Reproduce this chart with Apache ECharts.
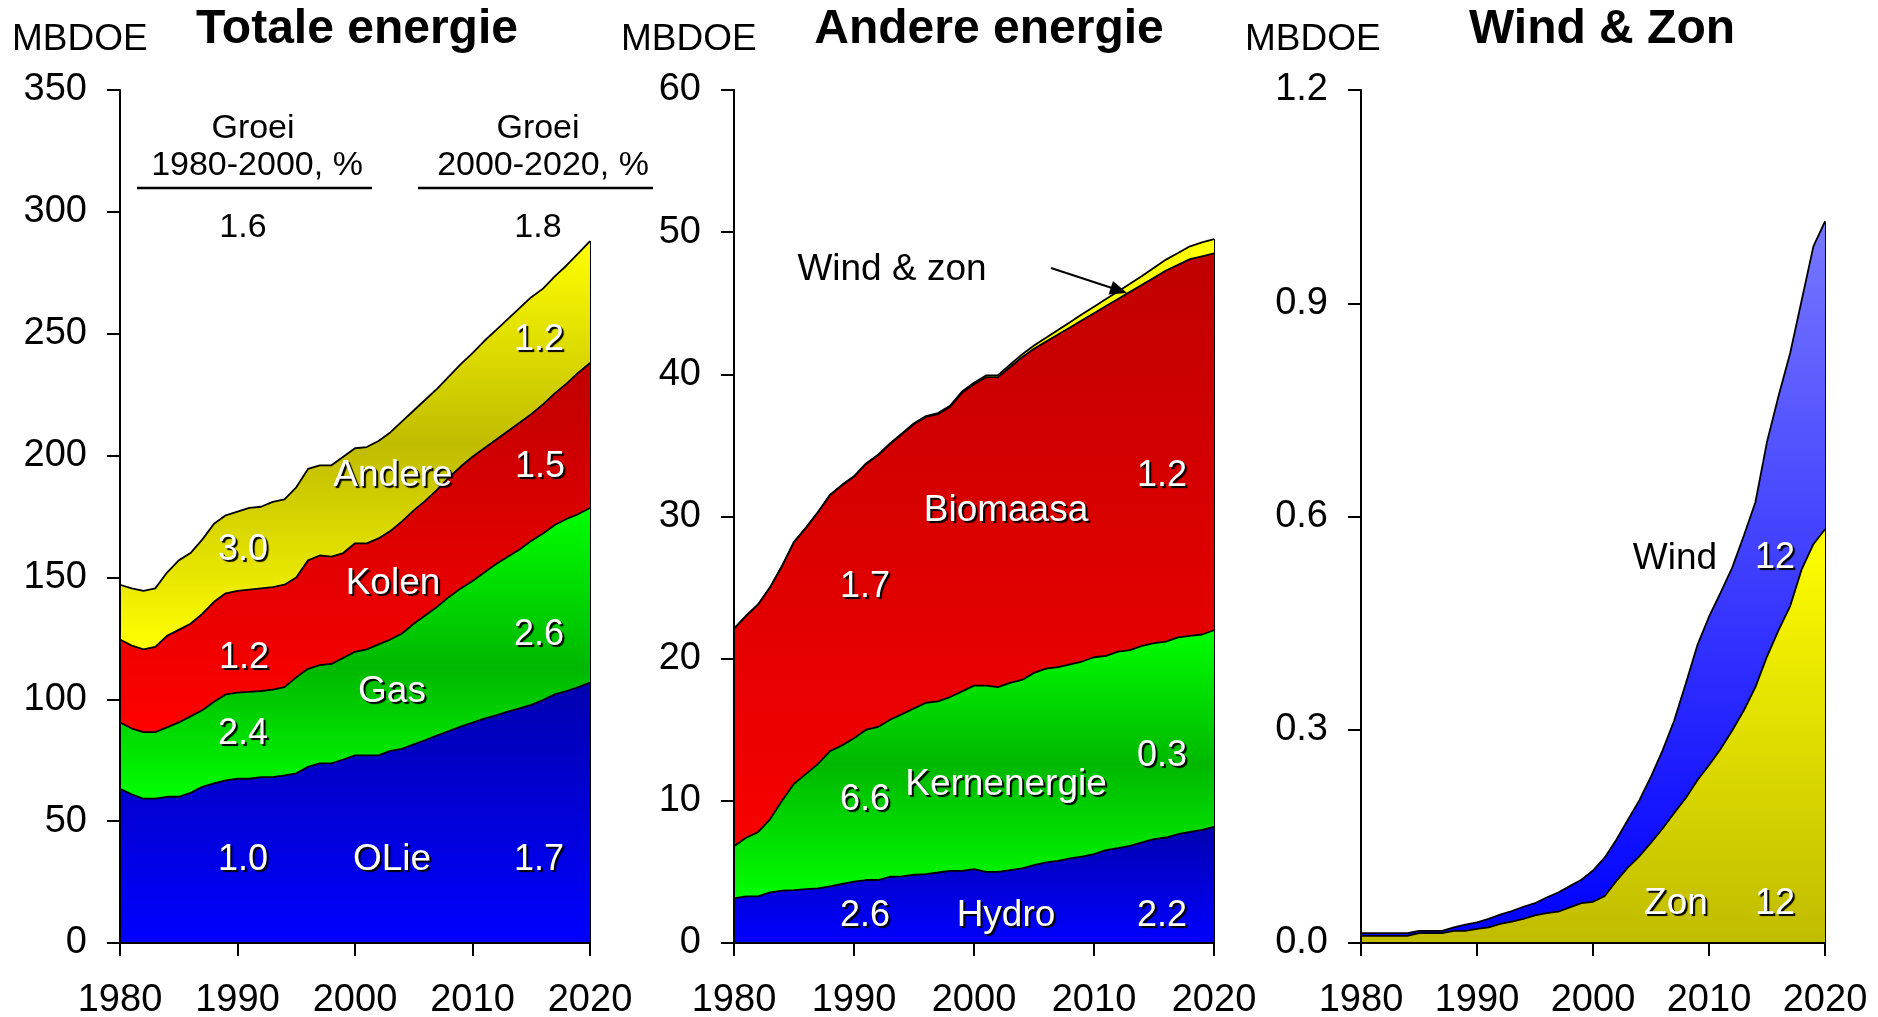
<!DOCTYPE html>
<html>
<head>
<meta charset="utf-8">
<script src="https://cdn.jsdelivr.net/npm/echarts@6/dist/echarts.min.js"></script>
<style>
  html, body { margin: 0; background: #fff; }
  #chart { width: 1878px; height: 1017px; }
</style>
</head>
<body>
<div id="chart"></div>
<script>
const years = ['1980','1981','1982','1983','1984','1985','1986','1987','1988','1989',
  '1990','1991','1992','1993','1994','1995','1996','1997','1998','1999',
  '2000','2001','2002','2003','2004','2005','2006','2007','2008','2009',
  '2010','2011','2012','2013','2014','2015','2016','2017','2018','2019','2020'];

// Totale energie, MBDOE
const olie = [63.3,61,59.2,59.2,60,60,61.6,64.1,65.5,66.7, 67.4,67.4,68.1,68.1,68.8,69.6,72.3,73.7,73.7,75.3,
  77,77,77,78.8,79.7,81.5,83.3,85.2,87,88.8, 90.4,92.1,93.4,94.9,96.3,97.7,99.7,102,103.4,105, 106.8];
const gas = [27.2,27,27.3,27.3,28.5,30.5,31.4,31.4,33.5,35.3, 35.3,35.6,35.3,35.9,36.2,39.4,40.2,40.3,40.8,41.7,
  42.5,43.5,45.5,45.7,47.3,49.5,51.2,52.8,55,56.7, 58.1,59.9,62.1,63.6,65.2,67.3,68.3,69.5,70.6,71, 71.7];
const kolen = [34,34,34,35,37.5,38,38,39.5,41,41.5, 41.8,42,42.1,42,42,41,44.5,45,44,43,
  44.5,43.5,43.5,44.5,46,46.5,47,48,49,50, 51,51,51,51.5,52,52,53,54,55.5,58, 59.5];
const andere = [22.5,23.5,24,24,26,28.5,29,30.5,32,32, 32.5,33.5,33.5,35,35,37,37.5,37,37.5,39.5,
  39,39.5,40,40.5,41,41,41.5,41.5,41.5,42, 42.5,44,45,46,47,48,47.5,48,48.5,49, 50];

// Andere energie, MBDOE
const hydro = [3.14,3.28,3.28,3.56,3.68,3.72,3.79,3.84,3.98,4.15, 4.31,4.43,4.43,4.66,4.68,4.8,4.85,4.96,5.08,5.08,
  5.2,5.0,5.0,5.13,5.25,5.48,5.67,5.78,5.95,6.07, 6.25,6.53,6.67,6.84,7.07,7.31,7.42,7.66,7.82,7.96, 8.17];
const kern = [3.66,4.12,4.52,5.14,6.32,7.48,8.11,8.76,9.52,9.75, 10.09,10.57,10.77,11.04,11.42,11.7,12.05,12.04,12.22,12.62,
  12.9,13.1,13.0,13.17,13.25,13.52,13.63,13.62,13.65,13.73, 13.85,13.67,13.83,13.76,13.83,13.79,13.78,13.84,13.78,13.74, 13.83];
const biomassa = [15.3,15.6,16,16.3,16.5,17,17.3,17.7,18,18.3, 18.4,18.7,19.1,19.4,19.7,20,20.1,20.2,20.4,21,
  21.2,21.7,21.8,22.2,22.7,22.8,23,23.4,23.7,24, 24.2,24.6,24.8,25.2,25.4,25.7,26.1,26.2,26.5,26.6, 26.5];
const windZon = [0.014,0.014,0.014,0.014,0.014,0.017,0.017,0.017,0.022,0.026, 0.029,0.034,0.04,0.045,0.051,0.056,0.064,0.071,0.08,0.089,
  0.102,0.12,0.145,0.173,0.201,0.234,0.271,0.313,0.365,0.419, 0.459,0.493,0.528,0.573,0.62,0.705,0.77,0.83,0.905,0.98, 1.015];

// Wind & Zon, MBDOE
const zon = [0.01,0.01,0.01,0.01,0.01,0.014,0.014,0.014,0.017,0.017, 0.02,0.022,0.027,0.03,0.034,0.039,0.042,0.044,0.05,0.056,
  0.058,0.066,0.087,0.106,0.122,0.141,0.161,0.183,0.204,0.229, 0.25,0.273,0.299,0.327,0.36,0.403,0.44,0.474,0.526,0.561, 0.582];
const wind = [0.004,0.004,0.004,0.004,0.004,0.003,0.003,0.003,0.005,0.009, 0.009,0.012,0.013,0.015,0.017,0.017,0.022,0.027,0.03,0.033,
  0.044,0.054,0.058,0.067,0.079,0.093,0.11,0.13,0.161,0.19, 0.209,0.22,0.229,0.246,0.26,0.302,0.33,0.356,0.379,0.419, 0.433];

const FONT = "'Liberation Sans', Arial, sans-serif";

function grad(stops) {
  return { type: 'linear', x: 0, y: 0, x2: 0, y2: 1,
    colorStops: stops.map(s => ({ offset: s[0], color: s[1] })) };
}

function band(name, idx, stack, data, fill, z) {
  return {
    name, type: 'line', xAxisIndex: idx, yAxisIndex: idx, stack, data, z,
    symbol: 'none', silent: true,
    lineStyle: { color: '#000', width: 1.8 },
    areaStyle: { color: fill, opacity: 1 }
  };
}

// closing vertical line at the right edge of each stack
function edge(idx, top) {
  const last = years[years.length - 1];
  return {
    type: 'line', xAxisIndex: idx, yAxisIndex: idx, data: [], z: 20, silent: true,
    markLine: {
      symbol: ['none', 'none'], silent: true, label: { show: false },
      lineStyle: { color: '#000', width: 2, type: 'solid' },
      data: [[{ coord: [last, 0] }, { coord: [last, top] }]]
    }
  };
}

const lastSum = arrs => arrs.reduce((s, a) => s + a[a.length - 1], 0);

function xAx(idx) {
  return {
    type: 'category', gridIndex: idx, data: years, boundaryGap: false, z: 10,
    axisLine: { lineStyle: { color: '#000', width: 2 } },
    axisTick: { interval: 9, length: 13, lineStyle: { color: '#000', width: 2 } },
    axisLabel: { interval: 9, fontSize: 38, color: '#000', margin: 39, fontFamily: FONT },
    splitLine: { show: false }
  };
}

function yAx(idx, max, interval, fmt) {
  return {
    type: 'value', gridIndex: idx, min: 0, max, interval, z: 10,
    axisLine: { show: true, lineStyle: { color: '#000', width: 2 } },
    axisTick: { show: true, length: 13, lineStyle: { color: '#000', width: 2 } },
    axisLabel: { fontSize: 38, color: '#000', margin: 33, fontFamily: FONT, formatter: fmt, padding: [4, 0, 0, 0] },
    splitLine: { show: false }
  };
}

function txt(x, y, text, o) {
  o = o || {};
  const style = {
    text, x: 0, y: 0, fill: o.color || '#000',
    font: (o.bold ? 'bold ' : '') + (o.size || 37) + 'px ' + FONT,
    align: o.align || 'center', verticalAlign: 'middle'
  };
  if (o.shadow) {
    style.textShadowColor = '#000';
    style.textShadowOffsetX = 2;
    style.textShadowOffsetY = 2;
    style.textShadowBlur = 1;
  }
  return { type: 'text', x, y, z: 100, silent: true, style };
}
const wl = (x, y, t) => txt(x, y, t, { color: '#fff', shadow: true, size: 36 });
const ww = (x, y, t) => txt(x, y + 2, t, { color: '#fff', shadow: true, size: 37 });

const chart = echarts.init(document.getElementById('chart'));

const option = {
  animation: false,
  backgroundColor: '#fff',
  grid: [
    { left: 120, top: 90, width: 470, height: 853, outerBoundsMode: 'none' },
    { left: 734, top: 90, width: 480, height: 853, outerBoundsMode: 'none' },
    { left: 1361, top: 90, width: 464, height: 853, outerBoundsMode: 'none' }
  ],
  xAxis: [xAx(0), xAx(1), xAx(2)],
  yAxis: [
    yAx(0, 350, 50),
    yAx(1, 60, 10),
    yAx(2, 1.2, 0.3, v => v.toFixed(1))
  ],
  series: [
    // Totale energie
    band('OLie', 0, 'tot', olie, grad([[0, '#0000b0'], [1, '#0000ff']]), 8),
    band('Gas', 0, 'tot', gas, grad([[0, '#00ff00'], [0.55, '#00b800'], [1, '#00ff00']]), 7),
    band('Kolen', 0, 'tot', kolen, grad([[0, '#c00000'], [1, '#ff0000']]), 6),
    band('Andere', 0, 'tot', andere, grad([[0, '#ffff00'], [0.5, '#c0bc00'], [1, '#ffff00']]), 5),
    edge(0, lastSum([olie, gas, kolen, andere])),
    // Andere energie
    band('Hydro', 1, 'and', hydro, grad([[0, '#0000b0'], [1, '#0000ff']]), 8),
    band('Kernenergie', 1, 'and', kern, grad([[0, '#00ff00'], [0.5, '#00b800'], [1, '#00ff00']]), 7),
    band('Biomaasa', 1, 'and', biomassa, grad([[0, '#c00000'], [1, '#f80000']]), 6),
    band('Wind & zon', 1, 'and', windZon, '#ffff00', 5),
    edge(1, lastSum([hydro, kern, biomassa, windZon])),
    // Wind & Zon
    band('Zon', 2, 'wz', zon, grad([[0, '#ffff00'], [1, '#c0bc00']]), 8),
    band('Wind', 2, 'wz', wind, grad([[0, '#7878ff'], [1, '#0000ff']]), 7),
    edge(2, lastSum([zon, wind]))
  ],
  graphic: [
    // titles and units
    txt(357, 30, 'Totale energie', { bold: true, size: 48 }),
    txt(989, 30, 'Andere energie', { bold: true, size: 48 }),
    txt(1602, 30, 'Wind & Zon', { bold: true, size: 48 }),
    txt(12, 40, 'MBDOE', { align: 'left' }),
    txt(621, 40, 'MBDOE', { align: 'left' }),
    txt(1245, 40, 'MBDOE', { align: 'left' }),
    // growth headers
    txt(253, 129, 'Groei', { size: 34 }),
    txt(257, 166, '1980-2000, %', { size: 34 }),
    { type: 'line', z: 100, shape: { x1: 137, y1: 188, x2: 372, y2: 188 }, style: { stroke: '#000', lineWidth: 2.5 } },
    txt(243, 228, '1.6', { size: 34 }),
    txt(538, 129, 'Groei', { size: 34 }),
    txt(543, 166, '2000-2020, %', { size: 34 }),
    { type: 'line', z: 100, shape: { x1: 418, y1: 188, x2: 653, y2: 188 }, style: { stroke: '#000', lineWidth: 2.5 } },
    txt(538, 228, '1.8', { size: 34 }),
    // panel 1 labels
    wl(243, 550, '3.0'), ww(393, 474, 'Andere'), wl(539, 340, '1.2'),
    wl(244, 658, '1.2'), ww(393, 582, 'Kolen'), wl(540, 467, '1.5'),
    wl(243, 734, '2.4'), ww(392, 690, 'Gas'), wl(539, 635, '2.6'),
    wl(243, 860, '1.0'), ww(392, 858, 'OLie'), wl(539, 860, '1.7'),
    // panel 2 labels
    txt(892, 270, 'Wind & zon'),
    { type: 'line', z: 100, shape: { x1: 1051, y1: 268, x2: 1115, y2: 289 }, style: { stroke: '#000', lineWidth: 2 } },
    { type: 'polygon', z: 100, shape: { points: [[1127, 293], [1113, 281], [1108.6, 294.4]] }, style: { fill: '#000' } },
    wl(865, 587, '1.7'), ww(1006, 509, 'Biomaasa'), wl(1162, 476, '1.2'),
    wl(865, 800, '6.6'), ww(1006, 783, 'Kernenergie'), wl(1162, 756, '0.3'),
    wl(865, 916, '2.6'), ww(1006, 914, 'Hydro'), wl(1162, 916, '2.2'),
    // panel 3 labels
    txt(1675, 559, 'Wind'),
    wl(1775, 558, '12'),
    ww(1676, 902, 'Zon'),
    wl(1775, 904, '12')
  ]
};

chart.setOption(option);
</script>
</body>
</html>
